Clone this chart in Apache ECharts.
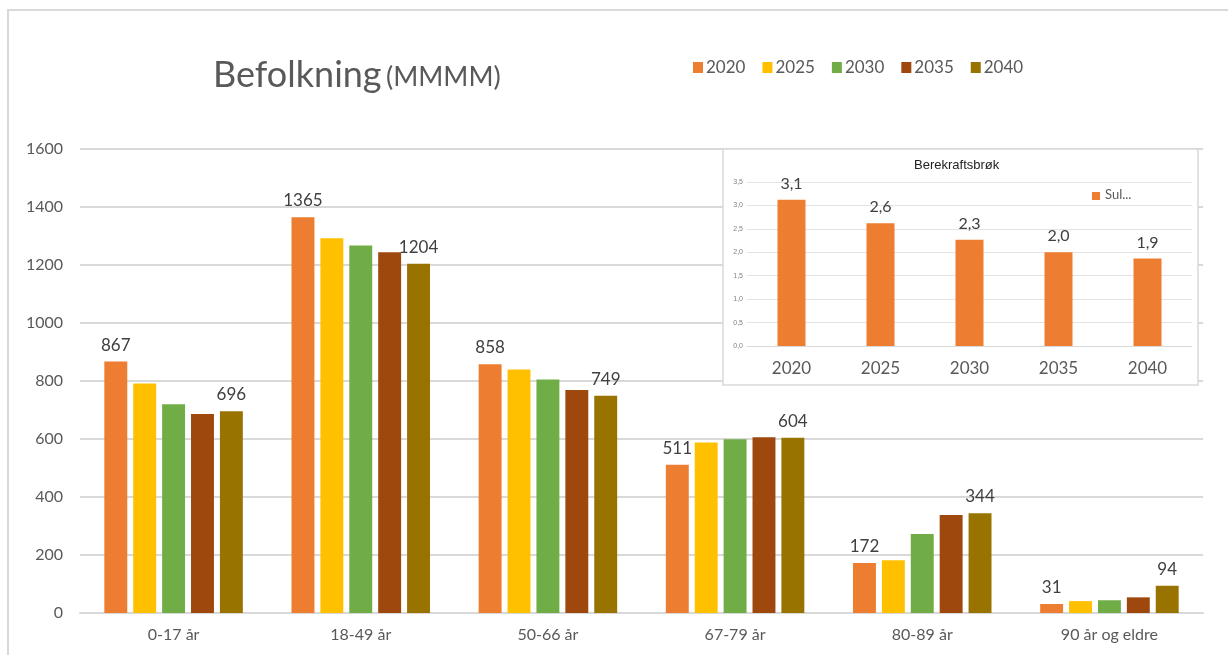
<!DOCTYPE html>
<html>
<head>
<meta charset="utf-8">
<script src="https://cdn.jsdelivr.net/npm/echarts@6/dist/echarts.min.js"></script>
<style>
  html, body { margin: 0; padding: 0; background: #fff; }
  #chart { width: 1228px; height: 655px; }
</style>
</head>
<body>
<div id="chart"></div>
<script>
const ageGroups = ['0-17 år', '18-49 år', '50-66 år', '67-79 år', '80-89 år', '90 år og eldre']
const years = ['2020', '2025', '2030', '2035', '2040']
const pop2020 = [867, 1365, 858, 511, 172, 31]
const pop2025 = [791, 1292, 840, 588, 182, 41]
const pop2030 = [720, 1267, 805, 599, 272, 44]
const pop2035 = [686, 1244, 769, 606, 338, 54]
const pop2040 = [696, 1204, 749, 604, 344, 94]
const yTicks = [0, 200, 400, 600, 800, 1000, 1200, 1400, 1600]

const ratioYears = ['2020', '2025', '2030', '2035', '2040']
const ratioValues = [3.12, 2.62, 2.27, 2.0, 1.87]

const colors = ['#ED7D31', '#FFC000', '#70AD47', '#9E480E', '#997300']
const popSeries = [pop2020, pop2025, pop2030, pop2035, pop2040]

const chart = echarts.init(document.getElementById('chart'))

const labelStyle = {
  show: true,
  position: 'top',
  distance: 8,
  fontFamily: 'Lato',
  fontSize: 17,
  color: '#404040'
}

const option = {
  animation: false,
  textStyle: { fontFamily: 'Lato' },
  title: {
    text: '{a|Befolkning} {b|(MMMM)}',
    left: 208,
    top: 52,
    textStyle: {
      rich: {
        a: { fontFamily: 'Lato', fontSize: 36, fontWeight: 'normal', color: '#595959' },
        b: { fontFamily: 'Lato', fontSize: 27, fontWeight: 'normal', color: '#595959', padding: [5, 0, 0, 0] }
      }
    }
  },
  legend: {
    data: years,
    left: 688,
    top: 54,
    icon: 'rect',
    itemWidth: 10,
    itemHeight: 11,
    itemGap: 17,
    textStyle: { fontFamily: 'Lato', fontSize: 17, color: '#595959', padding: [0, 0, 0, -2] }
  },
  graphic: [
    {
      type: 'rect',
      z: 0,
      shape: { x: 8, y: 10, width: 1240, height: 680 },
      style: { fill: 'none', stroke: '#d9d9d9', lineWidth: 2 }
    },
    {
      type: 'rect',
      z: 5,
      shape: { x: 723, y: 149, width: 475, height: 236 },
      style: { fill: '#fff', stroke: '#d9d9d9', lineWidth: 1.5 }
    },
    {
      type: 'text',
      z: 8,
      left: 914,
      top: 159,
      style: { text: 'Berekraftsbrøk', font: '13px "Liberation Sans"', fill: '#222' }
    },
    {
      type: 'rect',
      z: 8,
      shape: { x: 1092, y: 192, width: 8, height: 8 },
      style: { fill: '#ED7D31' }
    },
    {
      type: 'text',
      z: 8,
      left: 1105,
      top: 188,
      style: { text: 'Sul...', font: '13px Lato', fill: '#595959' }
    }
  ],
  grid: [
    { left: 80, right: 25, top: 149, bottom: 42 },
    { left: 747, right: 36, top: 182, bottom: 309 }
  ],
  xAxis: [
    {
      type: 'category',
      gridIndex: 0,
      data: ageGroups,
      axisTick: { show: false },
      axisLine: { lineStyle: { color: '#d9d9d9', width: 2 } },
      axisLabel: { fontFamily: 'Lato', fontSize: 16, color: '#595959', margin: 14 }
    },
    {
      type: 'category',
      gridIndex: 1,
      data: ratioYears,
      z: 6,
      axisTick: { show: false },
      axisLine: { lineStyle: { color: '#d9d9d9', width: 1 } },
      axisLabel: { fontFamily: 'Lato', fontSize: 17, color: '#595959', margin: 14 }
    }
  ],
  yAxis: [
    {
      type: 'value',
      gridIndex: 0,
      min: yTicks[0],
      max: yTicks[yTicks.length - 1],
      interval: 200,
      axisLine: { show: false },
      axisTick: { show: false },
      splitLine: { lineStyle: { color: '#d9d9d9', width: 2 } },
      axisLabel: {
        fontFamily: 'Lato',
        fontSize: 16,
        color: '#595959',
        margin: 17,
        formatter: (v) => String(v)
      }
    },
    {
      type: 'value',
      gridIndex: 1,
      min: 0,
      max: 3.5,
      interval: 0.5,
      z: 6,
      axisLine: { show: false },
      axisTick: { show: false },
      splitLine: { lineStyle: { color: '#e3e3e3', width: 1 } },
      axisLabel: {
        fontFamily: 'Liberation Sans',
        fontSize: 7,
        color: '#808080',
        margin: 4,
        formatter: (v) => v.toFixed(1).replace('.', ',')
      }
    }
  ],
  series: [
    ...years.map((y, i) => ({
      name: y,
      type: 'bar',
      xAxisIndex: 0,
      yAxisIndex: 0,
      data: popSeries[i],
      barGap: '26%',
      barCategoryGap: '26%',
      itemStyle: { color: colors[i] },
      label: (i === 0 || i === years.length - 1) ? labelStyle : { show: false }
    })),
    {
      name: 'Sul...',
      type: 'bar',
      xAxisIndex: 1,
      yAxisIndex: 1,
      z: 7,
      data: ratioValues,
      barWidth: 28,
      itemStyle: { color: '#ED7D31' },
      label: {
        show: true,
        position: 'top',
        distance: 8,
        fontFamily: 'Lato',
        fontSize: 16,
        color: '#404040',
        formatter: (p) => p.value.toFixed(1).replace('.', ',')
      }
    }
  ]
}

chart.setOption(option)
</script>
</body>
</html>
